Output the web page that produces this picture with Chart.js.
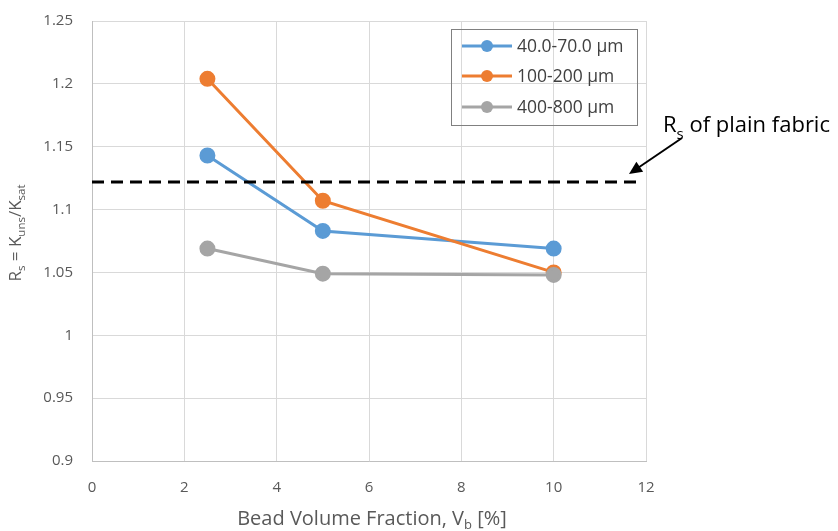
<!DOCTYPE html>
<html><head><meta charset="utf-8">
<script src="https://cdn.jsdelivr.net/npm/chart.js@4.4.1/dist/chart.umd.min.js"></script>
<style>html,body{margin:0;padding:0;background:#fff}#wrap{width:838px;height:531px}</style>
</head><body><div id="wrap"><canvas id="c" width="838" height="531"></canvas></div>
<script>
const beadFraction = [2.5, 5, 10];
const seriesNames = ['40.0-70.0 µm', '100-200 µm', '400-800 µm'];
const rs40to70 = [1.143, 1.083, 1.069];
const rs100to200 = [1.204, 1.107, 1.050];
const rs400to800 = [1.069, 1.049, 1.048];
const plainFabricX = [0, 11.8];
const plainFabricRs = 1.122;
const seriesColors = ['#5B9BD5', '#ED7D31', '#A5A5A5'];
const FONT = '"Open Sans", Lato, sans-serif';

function pts(xs, ys){ return xs.map((x,i)=>({x:x,y:ys[i]})); }

const datasets = [
  {label: seriesNames[0], data: pts(beadFraction, rs40to70), order: 3},
  {label: seriesNames[1], data: pts(beadFraction, rs100to200), order: 2},
  {label: seriesNames[2], data: pts(beadFraction, rs400to800), order: 1},
].map((d,i)=>Object.assign(d,{
  borderColor: seriesColors[i], backgroundColor: seriesColors[i],
  pointBackgroundColor: seriesColors[i], pointBorderColor: seriesColors[i],
  borderWidth: 3, pointRadius: 6.5, pointHoverRadius: 6.5, showLine: true, tension: 0
}));
datasets.push({
  label: 'plain', data: plainFabricX.map(x=>({x:x,y:plainFabricRs})),
  borderColor: '#000', borderWidth: 3, borderDash: [12,7], pointRadius: 0,
  showLine: true, order: 0
});

function drawRuns(ctx, runs, x, y, align){
  let total = 0;
  runs.forEach(r=>{ ctx.font = r[1]+'px '+FONT; total += ctx.measureText(r[0]).width; });
  let cx = align==='center' ? x - total/2 : x;
  ctx.textAlign = 'left'; ctx.textBaseline = 'alphabetic';
  runs.forEach(r=>{ ctx.font = r[1]+'px '+FONT; ctx.fillText(r[0], cx, y + (r[2]||0)); cx += ctx.measureText(r[0]).width; });
}

const extras = {
  id: 'extras',
  afterDraw(chart){
    const ctx = chart.ctx;
    ctx.save();
    ctx.strokeStyle = '#808080'; ctx.lineWidth = 1;
    ctx.strokeRect(451.5, 29.5, 186, 96);
    const rows = [46, 76, 107];
    for (let i=0;i<3;i++){
      const y = rows[i];
      ctx.strokeStyle = seriesColors[i]; ctx.lineWidth = 3;
      ctx.beginPath(); ctx.moveTo(462, y); ctx.lineTo(512, y); ctx.stroke();
      ctx.fillStyle = seriesColors[i];
      ctx.beginPath(); ctx.arc(487, y, 6, 0, Math.PI*2); ctx.fill();
      ctx.fillStyle = '#404040'; ctx.font = '17.5px '+FONT;
      ctx.textAlign = 'left'; ctx.textBaseline = 'middle';
      ctx.fillText(seriesNames[i], 517, y+1);
    }
    ctx.fillStyle = '#000';
    drawRuns(ctx, [['R',22,0],['s',15,7],[' of plain fabric',22,0]], 663, 132, 'left');
    ctx.strokeStyle = '#000'; ctx.lineWidth = 2;
    const x0=682,y0=138,x1=629,y1=174;
    const ang = Math.atan2(y1-y0, x1-x0);
    ctx.beginPath(); ctx.moveTo(x0,y0); ctx.lineTo(x1 - 8*Math.cos(ang), y1 - 8*Math.sin(ang)); ctx.stroke();
    ctx.beginPath();
    ctx.moveTo(x1,y1);
    ctx.lineTo(x1 - 13*Math.cos(ang) + 6*Math.sin(ang), y1 - 13*Math.sin(ang) - 6*Math.cos(ang));
    ctx.lineTo(x1 - 13*Math.cos(ang) - 6*Math.sin(ang), y1 - 13*Math.sin(ang) + 6*Math.cos(ang));
    ctx.closePath(); ctx.fill();
    ctx.fillStyle = '#595959';
    drawRuns(ctx, [['Bead Volume Fraction, V',20,0],['b',13,4],[' [%]',20,0]], 372, 525, 'center');
    ctx.translate(21, 233); ctx.rotate(-Math.PI/2);
    drawRuns(ctx, [['R',17,0],['s',11.5,4],[' = K',17,0],['uns',11.5,4],['/K',17,0],['sat',11.5,4]], 0, 0, 'center');
    ctx.restore();
  }
};

new Chart(document.getElementById('c'), {
  type: 'scatter',
  data: { datasets },
  options: {
    responsive: false, animation: false,
    layout: { padding: { top: 21, right: 192, left: 0, bottom: 0 } },
    plugins: { legend: { display: false }, tooltip: { enabled: false } },
    scales: {
      x: {
        type: 'linear', min: 0, max: 12,
        ticks: { stepSize: 2, color: '#595959', font: { family: FONT, size: 15 }, padding: 18 },
        grid: { color: '#D9D9D9', lineWidth: 1, drawTicks: false },
        border: { color: '#BFBFBF', width: 1 },
        afterFit(s){ s.height = 70; s.paddingLeft = 0; s.paddingRight = 0; }
      },
      y: {
        type: 'linear', min: 0.9, max: 1.25,
        ticks: { stepSize: 0.05, color: '#595959', font: { family: FONT, size: 15 }, padding: 19,
          callback: v => String(parseFloat(v.toFixed(2))) },
        grid: { color: '#D9D9D9', lineWidth: 1, drawTicks: false },
        border: { color: '#BFBFBF', width: 1 },
        afterFit(s){ s.width = 92; s.paddingTop = 0; s.paddingBottom = 0; }
      }
    }
  },
  plugins: [extras]
});
</script>
</body></html>
